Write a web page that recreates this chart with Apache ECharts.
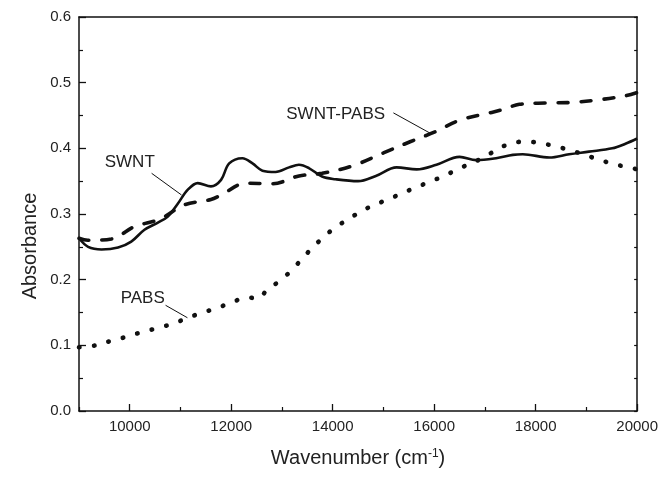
<!DOCTYPE html>
<html>
<head>
<meta charset="utf-8">
<script src="https://cdn.jsdelivr.net/npm/echarts@6/dist/echarts.min.js"></script>
<style>html,body{margin:0;padding:0;background:#fff}#c{width:661px;height:477px}</style>
</head>
<body>
<div id="c"></div>
<script>
// ---- data ----
var swntX = [9000, 9180, 9445, 9770, 10030, 10290, 10555, 10750, 10950, 11145, 11340, 11600, 11800, 11960, 12220, 12420, 12615, 12875, 13140, 13335, 13530, 13790, 14050, 14500, 14850, 15260, 15655, 16045, 16500, 16830, 17220, 17550, 17745, 18270, 18660, 19050, 19510, 19770, 20000];
var swntY = [0.263, 0.250, 0.246, 0.249, 0.258, 0.276, 0.287, 0.296, 0.316, 0.337, 0.347, 0.342, 0.352, 0.377, 0.385, 0.377, 0.366, 0.364, 0.371, 0.375, 0.370, 0.357, 0.353, 0.350, 0.358, 0.371, 0.368, 0.375, 0.387, 0.382, 0.385, 0.390, 0.391, 0.386, 0.391, 0.395, 0.400, 0.407, 0.415];

var swntPabsX = [9000, 9175, 9640, 10100, 10590, 11080, 11600, 11800, 12290, 12810, 13335, 13790, 14380, 15000, 15525, 16015, 16505, 17090, 17350, 17680, 18200, 18725, 19250, 19770, 20000];
var swntPabsY = [0.263, 0.260, 0.262, 0.281, 0.292, 0.314, 0.322, 0.329, 0.347, 0.346, 0.358, 0.362, 0.373, 0.393, 0.410, 0.425, 0.443, 0.454, 0.459, 0.467, 0.469, 0.470, 0.474, 0.480, 0.485];

var pabsX = [9000, 9330, 9640, 9935, 10230, 10535, 10850, 11145, 11440, 11730, 12025, 12330, 12515, 12715, 13005, 13270, 13505, 13765, 14040, 14325, 14430, 14710, 15015, 15325, 15620, 15915, 16220, 16515, 16815, 17125, 17420, 17725, 18025, 18335, 18635, 18935, 19235, 19540, 19825, 20000];
var pabsY = [0.097, 0.100, 0.107, 0.113, 0.120, 0.126, 0.133, 0.142, 0.150, 0.157, 0.166, 0.173, 0.171, 0.185, 0.201, 0.221, 0.241, 0.261, 0.279, 0.293, 0.298, 0.310, 0.320, 0.330, 0.340, 0.349, 0.359, 0.370, 0.380, 0.393, 0.405, 0.410, 0.409, 0.404, 0.398, 0.391, 0.383, 0.376, 0.371, 0.368];

var xMajorTicks = [10000, 12000, 14000, 16000, 18000, 20000];
var xMinorTicks = [9000, 11000, 13000, 15000, 17000, 19000];

// annotations: [text, labelX, labelY, leaderFromX, leaderFromY, leaderToX, leaderToY]
var annotations = [
  ['SWNT', 10000, 0.379, 10431, 0.362, 11020, 0.329],
  ['SWNT-PABS', 14059, 0.452, 15196, 0.454, 15922, 0.423],
  ['PABS', 10255, 0.172, 10706, 0.161, 11137, 0.142]
];

function zip(a, b) { return a.map(function (v, i) { return [v, b[i]]; }); }

var FONT = "'Liberation Sans', Arial, Helvetica, sans-serif";
var INK = '#111';
var TXT = '#222';

var chart = echarts.init(document.getElementById('c'), null, { renderer: 'canvas' });

var axisLineStyle = { color: INK, width: 1.5 };

var option = {
  animation: false,
  backgroundColor: '#fff',
  grid: { left: 79, right: 23, top: 17, bottom: 66, containLabel: false },
  xAxis: [
    {
      type: 'value', min: 9000, max: 20000, position: 'bottom',
      axisLine: { show: true, lineStyle: axisLineStyle },
      axisTick: { show: true, inside: true, length: 7, lineStyle: { color: INK, width: 1.3 }, customValues: xMajorTicks },
      axisLabel: { show: true, customValues: xMajorTicks, color: TXT, fontSize: 15, fontFamily: FONT, margin: 8,
        formatter: function (v) { return String(Math.round(v)); } },
      splitLine: { show: false },
      name: 'Wavenumber (cm{sup|-1})',
      nameLocation: 'middle', nameGap: 37,
      nameTextStyle: { color: TXT, fontSize: 20, fontFamily: FONT,
        rich: { sup: { fontSize: 12, verticalAlign: 'top', padding: [0, 0, 9, 0], color: TXT, fontFamily: FONT } } }
    },
    {
      type: 'value', min: 9000, max: 20000, position: 'bottom', gridIndex: 0,
      axisLine: { show: false },
      axisTick: { show: true, inside: true, length: 4, lineStyle: { color: INK, width: 1.2 }, customValues: xMinorTicks },
      axisLabel: { show: false },
      splitLine: { show: false }
    },
    {
      type: 'value', min: 9000, max: 20000, position: 'top',
      axisLine: { show: true, onZero: false, lineStyle: axisLineStyle },
      axisTick: { show: false },
      axisLabel: { show: false },
      splitLine: { show: false }
    }
  ],
  yAxis: [
    {
      type: 'value', min: 0, max: 0.6, interval: 0.1, position: 'left',
      axisLine: { show: true, lineStyle: axisLineStyle },
      axisTick: { show: true, inside: true, length: 7, lineStyle: { color: INK, width: 1.3 } },
      minorTick: { show: true, splitNumber: 2, length: 4, lineStyle: { color: INK, width: 1.2 } },
      axisLabel: { color: TXT, fontSize: 15, fontFamily: FONT, margin: 8, formatter: function (v) { return v.toFixed(1); } },
      splitLine: { show: false }
    },
    {
      type: 'value', min: 0, max: 0.6, interval: 0.1, position: 'right',
      axisLine: { show: true, onZero: false, lineStyle: axisLineStyle },
      axisTick: { show: true, inside: true, length: 3, lineStyle: { color: INK, width: 1.2 } },
      minorTick: { show: true, splitNumber: 2, length: 3, lineStyle: { color: INK, width: 1.2 } },
      axisLabel: { show: false },
      splitLine: { show: false }
    }
  ],
  series: [
    {
      name: 'SWNT', type: 'line', xAxisIndex: 0, yAxisIndex: 0,
      data: zip(swntX, swntY), smooth: 0.35, showSymbol: false, symbol: 'none',
      lineStyle: { color: INK, width: 2.6 }, z: 3
    },
    {
      name: 'SWNT-PABS', type: 'line', xAxisIndex: 0, yAxisIndex: 0,
      data: zip(swntPabsX, swntPabsY), smooth: 0.35, showSymbol: false, symbol: 'none',
      lineStyle: { color: INK, width: 3.6, type: [10, 13], cap: 'round' }, z: 3
    },
    {
      name: 'PABS', type: 'line', xAxisIndex: 0, yAxisIndex: 0,
      data: zip(pabsX, pabsY), smooth: 0.35, showSymbol: false, symbol: 'none',
      lineStyle: { color: INK, width: 4.6, type: [0.5, 14.5], cap: 'round' }, z: 3
    }
  ]
};

chart.setOption(option);

// annotation labels & leader lines placed in data coordinates
var g = [];
annotations.forEach(function (a) {
  var p = chart.convertToPixel({ gridIndex: 0 }, [a[1], a[2]]);
  var p1 = chart.convertToPixel({ gridIndex: 0 }, [a[3], a[4]]);
  var p2 = chart.convertToPixel({ gridIndex: 0 }, [a[5], a[6]]);
  g.push({ type: 'text', x: p[0], y: p[1], z: 10,
    style: { text: a[0], fill: TXT, font: '17px ' + FONT, align: 'center', verticalAlign: 'middle' } });
  g.push({ type: 'line', z: 10,
    shape: { x1: p1[0], y1: p1[1], x2: p2[0], y2: p2[1] },
    style: { stroke: INK, lineWidth: 1 } });
});
// y-axis title
g.push({ type: 'text', x: 30, y: 246, rotation: Math.PI / 2, z: 10,
  style: { text: 'Absorbance', fill: TXT, font: '20px ' + FONT, align: 'center', verticalAlign: 'middle' } });

chart.setOption({ graphic: g });
</script>
</body>
</html>
